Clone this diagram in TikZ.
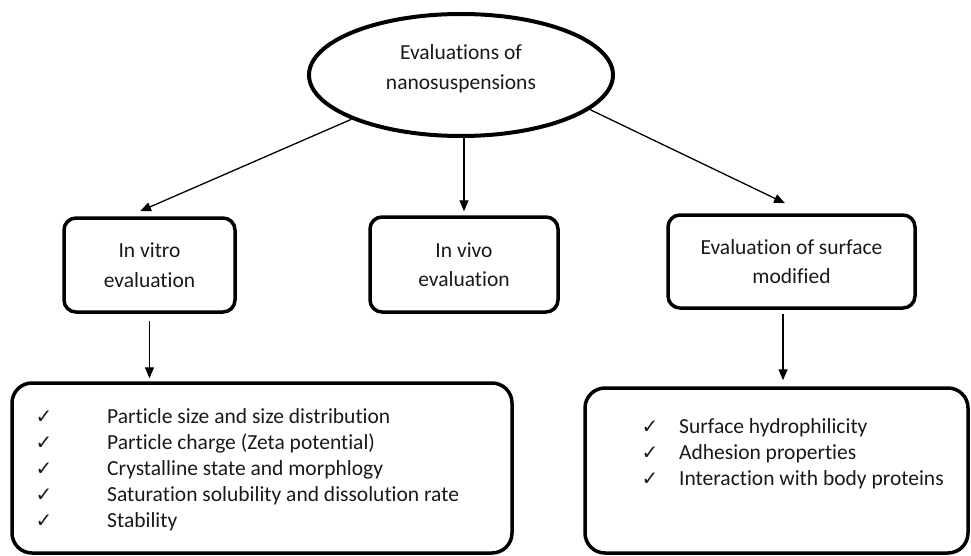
\documentclass[tikz,border=0pt]{standalone}
\usepackage{fontspec}
\setmainfont{Carlito}[Ligatures=NoCommon]
\newfontfamily\symfont{DejaVu Sans}
\usetikzlibrary{shapes.geometric,arrows.meta}
\begin{document}
\begin{tikzpicture}[x=1pt,y=-1pt,
  every node/.style={font=\fontsize{21.5}{29.5}\selectfont, text=black!90},
  box/.style={draw, line width=3.5pt, rounded corners=12pt, align=center, inner sep=0pt},
  bigbox/.style={draw, line width=3.5pt, rounded corners=20pt, inner sep=0pt},
  rootshape/.style={ellipse, draw, line width=4pt, inner sep=0pt},
  lbl/.style={anchor=base, inner sep=0pt},
  arr/.style={line width=1.3pt, -{Triangle[length=11pt,width=9pt]}},
  item/.style={anchor=base west, inner sep=0pt},
  ck/.style={anchor=base, inner sep=0pt, font=\symfont\fontsize{20}{20}\selectfont}]
\useasboundingbox (0,0) rectangle (971,556);

% root
\node[rootshape, minimum width=304pt, minimum height=122pt] (root) at (461,75) {};
\node[lbl] (rootA) at (461,60) {Evaluations of};
\node[lbl] (rootB) at (461,90) {nanosuspensions};

% second level
\node[box, minimum width=171pt, minimum height=94pt] (vitro) at (149.5,265) {In vitro\\evaluation};
\node[box, minimum width=188pt, minimum height=95pt] (vivo) at (464,264.5) {In vivo\\evaluation};
\node[box, minimum width=247pt, minimum height=93pt] (surf) at (791.5,261.5) {Evaluation of surface\\modified};

% lists
\node[bigbox, minimum width=500pt, minimum height=170pt] (listL) at (262,468) {};
\node[bigbox, minimum width=383pt, minimum height=165pt] (listR) at (776.5,470.5) {};

\foreach \t [count=\i] in {Particle size and size distribution, Particle charge (Zeta potential), Crystalline state and morphlogy, Saturation solubility and dissolution rate, Stability} {
  \node[item] (la\i) at (107, {423+26.2*(\i-1)}) {\t};
  \node[ck] (lc\i) at (44, {423+26.2*(\i-1)}) {✓};
}
\foreach \t [count=\i] in {Surface hydrophilicity, Adhesion properties, Interaction with body proteins} {
  \node[item] (ra\i) at (679, {433+26.3*(\i-1)}) {\t};
  \node[ck] (rc\i) at (650, {433+26.3*(\i-1)}) {✓};
}

% connectors
\draw[arr] (root.202) -- ([xshift=-9.5pt,yshift=5pt]vitro.north);
\draw[arr] (vivo.north |- root.south) -- ([yshift=4pt]vivo.north);
\draw[arr] (root.345) -- ([xshift=-6.5pt,yshift=10pt]surf.north);
\draw[arr, shorten <=7pt] (vitro.south) -- ([yshift=3pt]vitro.south |- listL.north);
\draw[arr, shorten <=4pt] ([xshift=-8.5pt]surf.south) -- ([xshift=-8.5pt,yshift=6pt]surf.south |- listR.north);
\end{tikzpicture}
\end{document}
